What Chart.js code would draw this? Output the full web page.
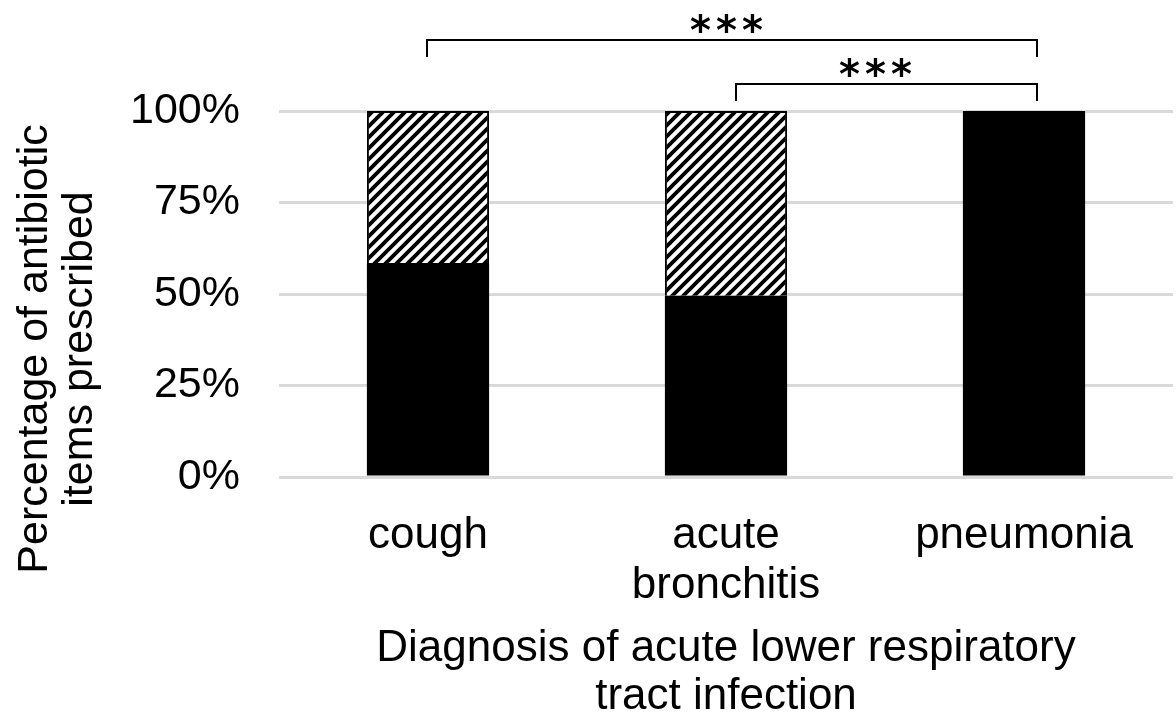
<!DOCTYPE html>
<html>
<head>
<meta charset="utf-8">
<script src="https://cdn.jsdelivr.net/npm/chart.js@4"></script>
<style>
  body { margin: 0; background: #fff; }
  canvas { display: block; }
</style>
</head>
<body>
<canvas id="diagChart" width="1176" height="721"></canvas>
<script>
// Values (percent of antibiotic items)
const categories = ['cough', ['acute', 'bronchitis'], 'pneumonia'];
const solidShare = [58.5, 49.5, 100];
const hatchedShare = [41.5, 50.5, 0];
const yTicks = [0, 25, 50, 75, 100];
// Significance brackets: [from category, to category, label]
const brackets = [[0, 2, '***'], [1, 2, '***']];
const yTitle = ['Percentage of antibiotic', 'items prescribed'];

// Diagonal hatch pattern for the upper segment
function makeHatch() {
  const p = 11;
  const c = document.createElement('canvas');
  c.width = p; c.height = p;
  const g = c.getContext('2d');
  g.fillStyle = '#fff';
  g.fillRect(0, 0, p, p);
  g.strokeStyle = '#000';
  g.lineWidth = 3.8;
  g.beginPath();
  g.moveTo(0, p); g.lineTo(p, 0);
  g.moveTo(-2, 2); g.lineTo(2, -2);
  g.moveTo(p - 2, p + 2); g.lineTo(p + 2, p - 2);
  g.stroke();
  return g.createPattern(c, 'repeat');
}

const ctx = document.getElementById('diagChart').getContext('2d');
const fontFamily = '"Liberation Sans", Arial, sans-serif';
Chart.defaults.color = '#000';
Chart.defaults.font.family = fontFamily;

// Draws the y title (set lower than the scale centre) and the brackets with stars
const annotatePlugin = {
  id: 'annotate',
  afterDraw(chart) {
    const x = chart.scales.x;
    const y = chart.scales.y;
    const g = chart.ctx;
    const top = y.getPixelForValue(100);

    g.save();
    g.fillStyle = '#000';
    g.font = '43px ' + fontFamily;
    g.textAlign = 'center';
    g.textBaseline = 'middle';
    g.translate(35, 349);
    g.rotate(-Math.PI / 2);
    yTitle.forEach((line, i) => g.fillText(line, 0, i * 45));
    g.restore();

    g.save();
    g.strokeStyle = '#000';
    g.lineWidth = 2;
    g.fillStyle = '#000';
    g.font = 'bold 40px "DejaVu Sans"';
    g.textAlign = 'center';
    g.textBaseline = 'alphabetic';
    g.letterSpacing = '5px';
    brackets.forEach(([a, b, label], i) => {
      const level = i === 0 ? top - 71 : top - 27;
      const x1 = x.getPixelForValue(a) + (a === 0 ? -1 : 10);
      const x2 = x.getPixelForValue(b) + 13;
      g.beginPath();
      g.moveTo(x1, level + 17);
      g.lineTo(x1, level);
      g.lineTo(x2, level);
      g.lineTo(x2, level + 17);
      g.stroke();
      const mid = (x.getPixelForValue(a) + x.getPixelForValue(b)) / 2;
      g.fillText(label, mid + 3, level + 4);
    });
    g.restore();
  }
};

new Chart(ctx, {
  type: 'bar',
  data: {
    labels: categories,
    datasets: [{
      label: 'solid',
      data: solidShare,
      backgroundColor: '#000',
      borderWidth: 0,
    }, {
      label: 'hatched',
      data: hatchedShare,
      backgroundColor: makeHatch(),
      borderColor: '#000',
      borderWidth: 2,
      borderSkipped: 'start',
    }],
  },
  options: {
    responsive: false,
    devicePixelRatio: 1,
    animation: false,
    layout: { padding: { top: 111, right: 3, left: 0, bottom: 0 } },
    datasets: { bar: { categoryPercentage: 1, barPercentage: 0.41 } },
    plugins: {
      legend: { display: false },
      tooltip: { enabled: false },
    },
    scales: {
      x: {
        stacked: true,
        grid: { display: false },
        border: { display: false },
        ticks: { font: { size: 44, lineHeight: 1.14 }, padding: 26 },
        title: {
          display: true,
          text: ['Diagnosis of acute lower respiratory', 'tract infection'],
          font: { size: 44, lineHeight: 1.1 },
          padding: { top: 0, bottom: 0 },
        },
        afterFit(scale) { scale.height = 244; },
      },
      y: {
        stacked: true,
        min: 0,
        max: 100,
        afterBuildTicks(scale) { scale.ticks = yTicks.map(v => ({ value: v })); },
        grid: { color: '#d9d9d9', lineWidth: 3, drawTicks: false },
        border: { display: false },
        ticks: {
          font: { size: 43 },
          padding: 39,
          callback: v => v + '%',
        },
        afterFit(scale) { scale.width = 279; },
      },
    },
  },
  plugins: [annotatePlugin],
});
</script>
</body>
</html>
